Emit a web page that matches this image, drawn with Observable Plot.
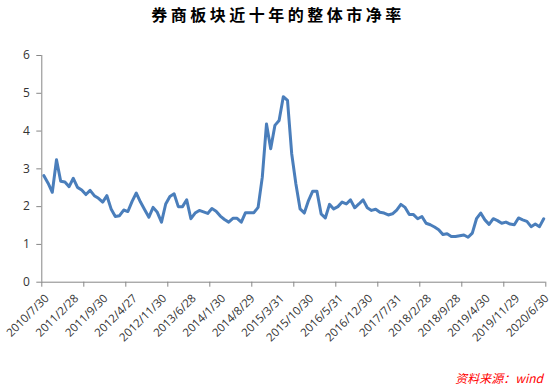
<!DOCTYPE html>
<html><head><meta charset="utf-8">
<script src="https://cdn.jsdelivr.net/npm/d3@7"></script>
<script src="https://cdn.jsdelivr.net/npm/@observablehq/plot@0.6"></script>
<style>
body{margin:0;background:#fff;width:552px;height:387px;position:relative;overflow:hidden;font-family:"Open Sans",sans-serif}
#title{position:absolute;top:3px;left:10px;width:536px;text-align:center;font-weight:bold;font-size:16px;font-family:"Noto Sans CJK SC";letter-spacing:3.5px;color:#000;line-height:23px}
#chart{position:absolute;top:40px;left:0}
#caption{position:absolute;right:9px;top:369px;color:#ff0000;font-style:italic;font-size:12px;font-family:"Noto Sans CJK SC";line-height:17px}
</style></head>
<body>
<div id="title">券商板块近十年的整体市净率</div>
<div id="chart"></div>
<div id="caption">资料来源：wind</div>
<script>
// monthly PB, 2010/7 .. 2020/6 (120 months)
const values = [
  2.82, 2.62, 2.38, 3.24, 2.67, 2.65, 2.53, 2.75, 2.51, 2.44,
  2.32, 2.43, 2.29, 2.22, 2.12, 2.29, 1.94, 1.74, 1.76, 1.91,
  1.87, 2.14, 2.36, 2.12, 1.92, 1.72, 1.98, 1.85, 1.59, 2.07,
  2.27, 2.34, 2.00, 2.00, 2.18, 1.68, 1.83, 1.90, 1.86, 1.82,
  1.95, 1.88, 1.75, 1.66, 1.59, 1.69, 1.69, 1.59, 1.84, 1.84,
  1.84, 1.98, 2.78, 4.19, 3.53, 4.15, 4.28, 4.91, 4.81, 3.40,
  2.60, 1.94, 1.83, 2.16, 2.41, 2.41, 1.81, 1.70, 2.06, 1.94,
  2.00, 2.12, 2.07, 2.18, 1.97, 2.07, 2.18, 1.97, 1.90, 1.93,
  1.85, 1.83, 1.78, 1.81, 1.91, 2.06, 1.98, 1.79, 1.79, 1.68,
  1.74, 1.56, 1.52, 1.46, 1.39, 1.26, 1.28, 1.21, 1.21, 1.23,
  1.25, 1.19, 1.30, 1.68, 1.83, 1.65, 1.53, 1.68, 1.63, 1.56,
  1.59, 1.54, 1.52, 1.70, 1.65, 1.61, 1.47, 1.54, 1.47, 1.68
];
const tickLabels = [
  "2010/7/30","2011/2/28","2011/9/30","2012/4/27","2012/11/30","2013/6/28",
  "2014/1/30","2014/8/29","2015/3/31","2015/10/30","2016/5/31","2016/12/30",
  "2017/7/31","2018/2/28","2018/9/28","2019/4/30","2019/11/29","2020/6/30"
];
const yTicks = [0, 1, 2, 3, 4, 5, 6];

const labelStep = 7;   // a label every 7 months
const tickStep = 10;   // a tick mark every 10 months
const n = values.length;
const labelData = tickLabels.map((label, k) => ({i: k * labelStep, label}));
const xTickPos = d3.range(0, n + 1, tickStep).map(v => v - 0.5);

const axisColor = "#868686";
const textColor = "#333333";

const chart = Plot.plot({
  width: 552,
  height: 320,
  marginTop: 15,
  marginBottom: 78.3,
  marginLeft: 41.3,
  marginRight: 6.7,
  style: {fontFamily: "Open Sans", background: "transparent", overflow: "visible"},
  x: {domain: [-0.5, n - 0.5], axis: null, label: null},
  y: {domain: [0, 6], axis: null, label: null},
  marks: [
    Plot.axisY(yTicks, {tickSize: 5, tickFormat: () => "", color: axisColor, label: null}),
    Plot.axisY(yTicks, {tickSize: 0, tickPadding: 12, fontSize: 12, color: textColor, label: null}),
    Plot.axisX(xTickPos, {tickSize: 5, tickFormat: () => "", color: axisColor, label: null}),
    Plot.ruleX([-0.5], {stroke: axisColor}),
    Plot.ruleY([0], {stroke: axisColor}),
    Plot.text(labelData, {
      x: "i", y: () => 0, text: "label", rotate: -45,
      textAnchor: "end", lineAnchor: "top", dx: 0, dy: 11,
      fontSize: 11.5, fill: textColor
    }),
    Plot.lineY(values, {stroke: "#4a7ebb", strokeWidth: 3, strokeLinejoin: "round"})
  ]
});
document.getElementById("chart").appendChild(chart);
</script>
</body></html>
